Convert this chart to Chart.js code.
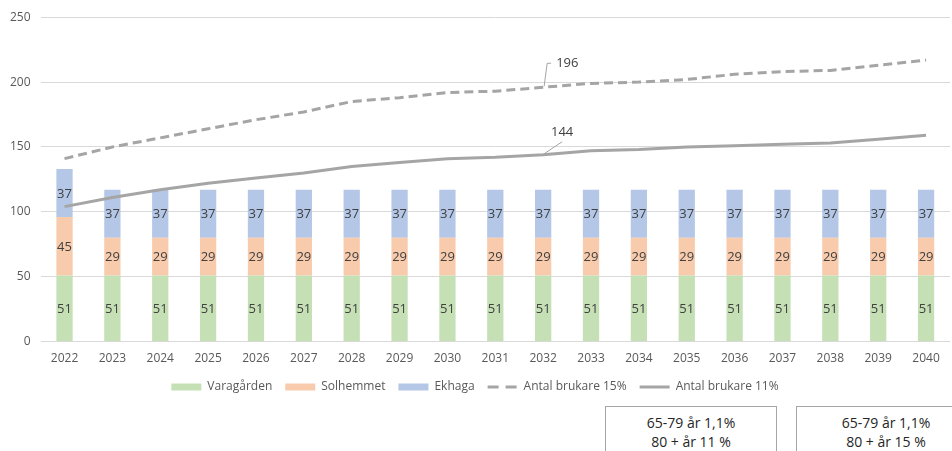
<!DOCTYPE html>
<html>
<head>
<meta charset="utf-8">
<script src="https://cdn.jsdelivr.net/npm/chart.js@4.4.0/dist/chart.umd.min.js"></script>
<style>
    body { margin: 0; background: #fff; }
    #contenedor { position: relative; width: 952px; height: 451px; overflow: hidden; }
    .ruta {
        position: absolute; top: 406px; height: 60px;
        border: 1px solid #a6a6a6; background: #fff; box-sizing: border-box;
        font-family: "Open Sans", sans-serif; font-size: 14px; color: #262626;
        text-align: center; line-height: 19px; padding-top: 6px;
    }
</style>
</head>
<body>
<div id="contenedor">
    <canvas id="grafico" width="952" height="451"></canvas>
    <div class="ruta" style="left:605px; width:172px;">65-79 år 1,1%<br>80 + år 11 %</div>
    <div class="ruta" style="left:796px; width:180px;">65-79 år 1,1%<br>80 + år 15 %</div>
</div>
<script>
// Datos
const anios = ['2022', '2023', '2024', '2025', '2026', '2027', '2028', '2029', '2030', '2031',
    '2032', '2033', '2034', '2035', '2036', '2037', '2038', '2039', '2040'];
const varagarden = [51, 51, 51, 51, 51, 51, 51, 51, 51, 51, 51, 51, 51, 51, 51, 51, 51, 51, 51];
const solhemmet = [45, 29, 29, 29, 29, 29, 29, 29, 29, 29, 29, 29, 29, 29, 29, 29, 29, 29, 29];
const ekhaga = [37, 37, 37, 37, 37, 37, 37, 37, 37, 37, 37, 37, 37, 37, 37, 37, 37, 37, 37];
const brukare15 = [141, 150, 157, 164, 171, 177, 185, 188, 192, 193, 196, 199, 200, 202, 206, 208, 209, 213, 217];
const brukare11 = [104, 111, 117, 122, 126, 130, 135, 138, 141, 142, 144, 147, 148, 150, 151, 152, 153, 156, 159];
const yTicks = [0, 50, 100, 150, 200, 250];
// Punto donde aparecen las etiquetas de las líneas
const indiceEtiqueta = 10;

const fuente = '"Open Sans", sans-serif';
const gris = '#a5a5a5';

// Plugin para escribir los valores dentro de las barras y las etiquetas de las líneas
const etiquetasPlugin = {
    id: 'etiquetas',
    afterDatasetsDraw(chart) {
        const ctx = chart.ctx;
        ctx.save();
        ctx.font = '13px ' + fuente;
        ctx.fillStyle = '#404040';
        ctx.textAlign = 'center';
        ctx.textBaseline = 'middle';
        chart.data.datasets.forEach((ds, i) => {
            if (ds.type === 'line') return;
            const meta = chart.getDatasetMeta(i);
            meta.data.forEach((barra, j) => {
                const p = barra.getProps(['x', 'y', 'base'], true);
                ctx.fillText(ds.data[j], p.x, (p.y + p.base) / 2 + 1);
            });
        });

        // etiquetas con línea guía
        ctx.strokeStyle = gris;
        ctx.lineWidth = 1;
        const p15 = chart.getDatasetMeta(3).data[indiceEtiqueta];
        const p11 = chart.getDatasetMeta(4).data[indiceEtiqueta];

        ctx.beginPath();
        ctx.moveTo(p15.x + 1, p15.y - 1);
        ctx.lineTo(p15.x + 4, p15.y - 24);
        ctx.lineTo(p15.x + 8, p15.y - 24);
        ctx.stroke();
        ctx.textAlign = 'left';
        ctx.fillText(brukare15[indiceEtiqueta], p15.x + 13, p15.y - 24);

        ctx.beginPath();
        ctx.moveTo(p11.x + 1, p11.y - 1);
        ctx.lineTo(p11.x + 19, p11.y - 13);
        ctx.stroke();
        ctx.textAlign = 'center';
        ctx.fillText(brukare11[indiceEtiqueta], p11.x + 19, p11.y - 22);
        ctx.restore();
    }
};

new Chart(document.getElementById('grafico'), {
    type: 'bar',
    data: {
        labels: anios,
        datasets: [
            { label: 'Varagården', data: varagarden, backgroundColor: '#c5e0b4', borderWidth: 0, pointStyle: 'rect', order: 1 },
            { label: 'Solhemmet', data: solhemmet, backgroundColor: '#f8cbad', borderWidth: 0, pointStyle: 'rect', order: 1 },
            { label: 'Ekhaga', data: ekhaga, backgroundColor: '#b4c7e7', borderWidth: 0, pointStyle: 'rect', order: 1 },
            {
                type: 'line', label: 'Antal brukare 15%', data: brukare15, stack: 'l15', order: 0,
                borderColor: gris, backgroundColor: gris, borderWidth: 3, borderDash: [9, 5],
                pointRadius: 0, pointStyle: 'line', tension: 0
            },
            {
                type: 'line', label: 'Antal brukare 11%', data: brukare11, stack: 'l11', order: 0,
                borderColor: gris, backgroundColor: gris, borderWidth: 3,
                pointRadius: 0, pointStyle: 'line', tension: 0
            }
        ]
    },
    options: {
        responsive: false,
        animation: false,
        datasets: { bar: { barPercentage: 0.34, categoryPercentage: 1 } },
        layout: { padding: { left: 0, right: 2, top: 12, bottom: 48 } },
        scales: {
            x: {
                stacked: true,
                grid: { display: false },
                border: { display: false },
                ticks: { color: '#595959', font: { family: fuente, size: 12 }, padding: 2, maxRotation: 0 }
            },
            y: {
                stacked: true,
                min: 0, max: 250,
                afterBuildTicks: (eje) => { eje.ticks = yTicks.map(v => ({ value: v })); },
                grid: { color: '#d9d9d9', lineWidth: 1, drawTicks: false },
                border: { display: false },
                ticks: { color: '#595959', font: { family: fuente, size: 12 }, padding: 10 }
            }
        },
        plugins: {
            tooltip: { enabled: false },
            legend: {
                position: 'bottom',
                labels: {
                    usePointStyle: true,
                    pointStyleWidth: 30,
                    boxHeight: 7,
                    padding: 13,
                    color: '#595959',
                    font: { family: fuente, size: 12 },
                    sort: (a, b) => a.datasetIndex - b.datasetIndex,
                    // la línea del 15% va con guiones también en la leyenda
                    generateLabels: (chart) => {
                        const items = Chart.defaults.plugins.legend.labels.generateLabels(chart);
                        items.forEach(it => {
                            if (it.datasetIndex === 3) it.lineDash = [11, 7];
                        });
                        return items;
                    }
                }
            }
        }
    },
    plugins: [etiquetasPlugin]
});
</script>
</body>
</html>
